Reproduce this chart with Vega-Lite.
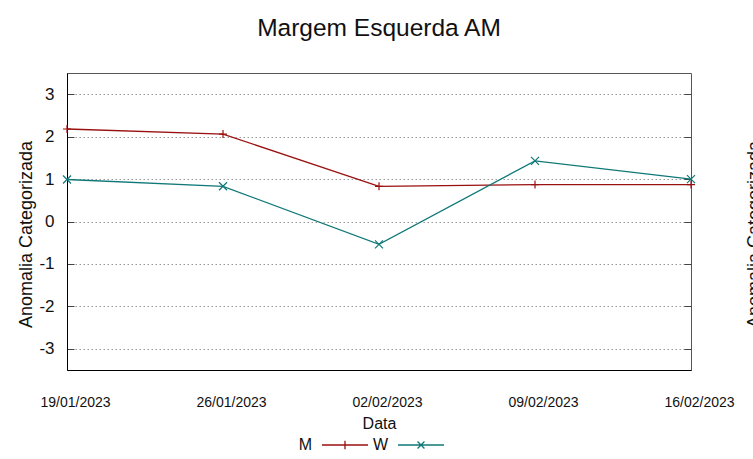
{
  "$schema": "https://vega.github.io/schema/vega-lite/v6.json",
  "width": 624,
  "height": 297,
  "autosize": {"type": "none"},
  "padding": {"left": 67, "top": 73, "right": 62, "bottom": 89},
  "background": "white",
  "config": {
    "font": "Liberation Sans",
    "view": {"stroke": "#555", "strokeWidth": 1},
    "axis": {"labelFont": "Liberation Sans", "titleFont": "Liberation Sans", "labelColor": "#111", "titleColor": "#111", "titleFontWeight": "normal"}
  },
  "title": {"text": "Margem Esquerda AM", "fontSize": 24.5, "fontWeight": "normal", "font": "Liberation Sans", "color": "#111", "offset": 32, "anchor": "middle"},
  "data": {
    "values": [
      {"Data": "19/01/2023", "serie": "M", "valor": 2.18},
      {"Data": "26/01/2023", "serie": "M", "valor": 2.06},
      {"Data": "02/02/2023", "serie": "M", "valor": 0.83},
      {"Data": "09/02/2023", "serie": "M", "valor": 0.87},
      {"Data": "16/02/2023", "serie": "M", "valor": 0.87},
      {"Data": "19/01/2023", "serie": "W", "valor": 0.99},
      {"Data": "26/01/2023", "serie": "W", "valor": 0.83},
      {"Data": "02/02/2023", "serie": "W", "valor": -0.54},
      {"Data": "09/02/2023", "serie": "W", "valor": 1.43},
      {"Data": "16/02/2023", "serie": "W", "valor": 1.0}
    ]
  },
  "layer": [
    {
      "mark": {"type": "line", "strokeWidth": 1.3},
      "encoding": {
        "x": {
          "field": "Data", "type": "ordinal",
          "sort": ["19/01/2023", "26/01/2023", "02/02/2023", "09/02/2023", "16/02/2023"],
          "scale": {"type": "point", "padding": 0},
          "axis": {"title": "Data", "titleFontSize": 16, "titlePadding": 6, "labelFontSize": 14, "labelAngle": 0, "labelOffset": 8, "labelPadding": 25, "ticks": false, "grid": false, "domainColor": "#000", "labelOverlap": false}
        },
        "y": {
          "field": "valor", "type": "quantitative",
          "scale": {"domain": [-3.5, 3.5], "nice": false, "zero": false},
          "axis": {"title": "Anomalia Categorizada", "titleFontSize": 18, "titlePadding": 3, "titleY": 161, "labelFontSize": 17, "values": [-3, -2, -1, 0, 1, 2, 3], "labelExpr": "'' + datum.value", "labelPadding": 20, "tickSize": -7, "tickColor": "#444", "domainColor": "#000", "grid": true, "gridColor": "#999", "gridDash": [1.5, 2.5], "gridWidth": 1}
        },
        "color": {
          "field": "serie", "type": "nominal",
          "scale": {"domain": ["M", "W"], "range": ["#9a1010", "#107878"]},
          "legend": {
            "orient": "none", "legendX": 254, "legendY": 348, "direction": "horizontal", "title": null,
            "symbolSize": 2116, "symbolType": "M-1,0H1", "symbolStrokeWidth": 1.3,
            "labelFontSize": 16, "labelFont": "Liberation Sans", "labelColor": "#111",
            "labelAlign": "right", "labelOffset": -57, "columnPadding": 1,
            "encode": {"symbols": {"update": {"shape": {"signal": "datum.value == 'M' ? 'M-1,0H1M0,-0.18V0.18' : 'M-1,0H1M-0.15,-0.15L0.15,0.15M-0.15,0.15L0.15,-0.15'"}, "fill": {"value": "transparent"}}}}
          }
        }
      }
    },
    {
      "mark": {"type": "point", "filled": false, "strokeWidth": 1.2, "opacity": 1},
      "encoding": {
        "x": {
          "field": "Data", "type": "ordinal",
          "sort": ["19/01/2023", "26/01/2023", "02/02/2023", "09/02/2023", "16/02/2023"],
          "scale": {"type": "point", "padding": 0}
        },
        "y": {
          "field": "valor", "type": "quantitative",
          "scale": {"domain": [-3.5, 3.5], "nice": false, "zero": false},
          "axis": {"orient": "right", "title": "Anomalia Categorizada", "titleFontSize": 18, "titleAngle": 270, "titlePadding": 72, "titleY": 161, "labels": false, "values": [-3, -2, -1, 0, 1, 2, 3], "tickSize": -7, "tickColor": "#444", "domain": false, "grid": false}
        },
        "color": {"field": "serie", "type": "nominal"},
        "shape": {"condition": {"test": "datum.serie == 'M'", "value": "M-1,0H1M0,-1V1"}, "value": "M-1,-1L1,1M-1,1L1,-1"},
        "size": {"value": 64}
      }
    }
  ],
  "resolve": {"scale": {"y": "independent"}}
}
